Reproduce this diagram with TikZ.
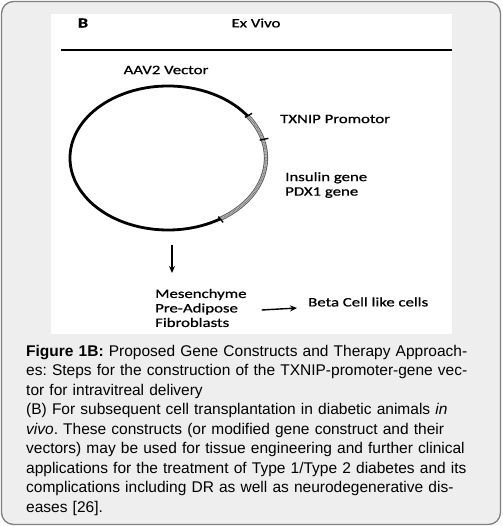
\documentclass[tikz,border=0pt]{standalone}
\usepackage{fontspec}
\setmainfont{Liberation Sans}
\newfontfamily\figfont[FakeStretch=1.3,FakeBold=0.8]{Carlito}
\usetikzlibrary{arrows.meta}
\definecolor{panelgray}{HTML}{EEEEEE}
\definecolor{framegray}{HTML}{808080}
\tikzset{lbl/.style={font=\figfont\fontsize{12.9}{14.5}\selectfont, inner sep=0pt}}
\tikzset{flow/.style={-{Stealth[length=7pt,width=6pt]}, line width=1.4pt}}
\tikzset{plasmid/.style={line width=2.8pt}}
\tikzset{insert/.style={line width=4.2pt, draw=gray!70!black}}

\begin{document}
\begin{tikzpicture}[x=1pt,y=-1pt]
\useasboundingbox (0,0) rectangle (502,526);

% frame and figure panel
\draw[framegray, line width=1.3pt, fill=panelgray, rounded corners=12pt] (1.5,1.5) rectangle (500.5,524.5);
\fill[white] (51,14) rectangle (452,334);
\draw[line width=1.2pt] (61,50) -- (452,50);

\node[lbl, font=\figfont\bfseries\fontsize{14}{14.5}\selectfont] (panel) at (83,23) {B};
\node[lbl] (exvivo) at (256,23) {Ex Vivo};
\node[lbl] (vector) at (166,70) {AAV2 Vector};

% the vector
\path (168,158) coordinate (c);
\draw[plasmid] (c) ++(58:98 and 72) arc[start angle=58, end angle=324, x radius=98, y radius=72];
\draw[insert] (c) ++(-36:98 and 72) arc[start angle=-36, end angle=58, x radius=98, y radius=72];
\draw[gray!45, line width=2.4pt]
  (c) ++(-36:98 and 72) arc[start angle=-36, end angle=58, x radius=98, y radius=72];
\draw[gray!85!black, line width=1.6pt, dash pattern=on 0.6pt off 0.9pt]
  (c) ++(-36:98 and 72) arc[start angle=-36, end angle=58, x radius=98, y radius=72];

\foreach \a in {-36,-15,58}{
  \draw[line width=1.4pt] (c) ++(\a:95 and 69) -- ++(\a:9 and 7);
}

\node[lbl, anchor=west] (promotor) at (280,119) {TXNIP Promotor};
\node[lbl, anchor=west, align=left] (genes) at (285,185) {Insulin gene\\PDX1 gene};

% cells
\node[lbl, anchor=west, align=left] (cells) at (155,308) {Mesenchyme\\Pre-Adipose\\Fibroblasts};
\node[lbl, anchor=west] (beta) at (308,302) {Beta Cell like cells};

\coordinate (down-a) at (172,245);
\coordinate (down-b) at (172,273);
\draw[flow] (down-a) -- (down-b);
\draw[flow] ([xshift=15pt,yshift=-2pt]cells.east) -- ([xshift=-11pt,yshift=-6pt]beta.west);

% caption
\node[anchor=north west, inner sep=0pt, text width=457pt,
  font=\fontsize{15.5}{19.5}\selectfont] (caption) at (26,345) {%
  \hyphenpenalty=10000 \exhyphenpenalty=10000 \parindent=0pt \tolerance=9999 \frenchspacing
  {\bfseries Figure 1B:} Proposed Gene Constructs and Therapy Approach-\linebreak
  es: Steps for the construction of the TXNIP-promoter-gene vec-\linebreak
  tor for intravitreal delivery\par
  (B) For subsequent cell transplantation in diabetic animals \textit{in}\linebreak
  \textit{vivo}. These constructs (or modified gene construct and their\linebreak
  vectors) may be used for tissue engineering and further clinical\linebreak
  applications for the treatment of Type 1/Type 2 diabetes and its\linebreak
  complications including DR as well as neurodegenerative dis-\linebreak
  eases [26].};

\end{tikzpicture}
\end{document}
